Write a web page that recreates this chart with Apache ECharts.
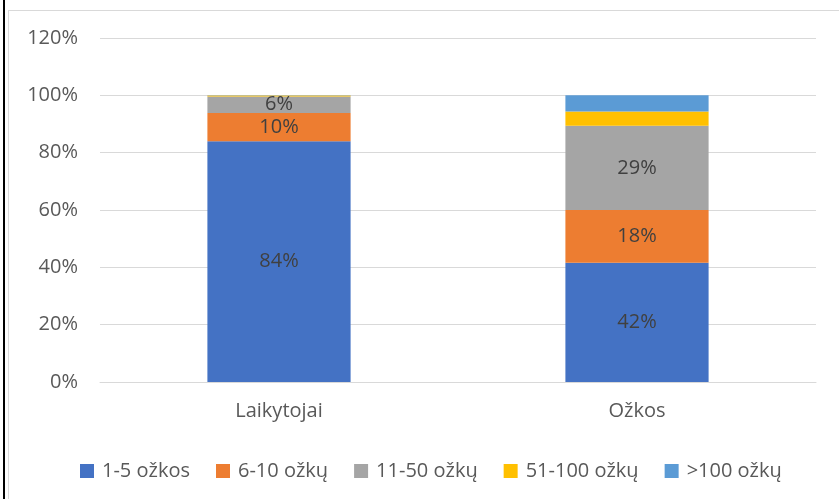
<!DOCTYPE html>
<html>
<head>
<meta charset="utf-8">
<script src="https://cdn.jsdelivr.net/npm/echarts@6/dist/echarts.min.js"></script>
<style>
  html, body { margin: 0; padding: 0; background: #fff; }
  #main { width: 839px; height: 499px; }
</style>
</head>
<body>
<div id="main"></div>
<script>
var categories = ["Laikytojai", "Ožkos"];
var seriesNames = ["1-5 ožkos", "6-10 ožkų", "11-50 ožkų", "51-100 ožkų", ">100 ožkų"];
var s1 = [84.0, 41.6];
var s2 = [9.8, 18.4];
var s3 = [5.8, 29.4];
var s4 = [0.3, 5.0];
var s5 = [0.1, 5.6];
var yTicks = [0, 20, 40, 60, 80, 100, 120];

var colors = ["#4472C4", "#ED7D31", "#A5A5A5", "#FFC000", "#5B9BD5"];
var fontName = "Open Sans";

var chart = echarts.init(document.getElementById("main"));

function makeSeries(idx, data, showLabel) {
    return {
        name: seriesNames[idx],
        type: "bar",
        stack: "total",
        barWidth: "40%",
        data: data,
        itemStyle: { color: colors[idx] },
        label: {
            show: showLabel,
            position: "inside",
            color: "#404040",
            fontFamily: fontName,
            fontSize: 20,
            formatter: function (p) {
                return Math.round(p.value) + "%";
            }
        },
        emphasis: { disabled: true }
    };
}

var option = {
    animation: false,
    color: colors,
    grid: { left: 100, right: 23, top: 38, bottom: 117 },
    xAxis: {
        type: "category",
        data: categories,
        axisTick: { show: false },
        axisLine: { lineStyle: { color: "#D9D9D9", width: 1 } },
        axisLabel: { color: "#595959", fontFamily: fontName, fontSize: 20, margin: 19 }
    },
    yAxis: {
        type: "value",
        min: yTicks[0],
        max: yTicks[yTicks.length - 1],
        interval: 20,
        axisLine: { show: false },
        axisTick: { show: false },
        splitLine: { lineStyle: { color: "#D9D9D9", width: 1 } },
        axisLabel: {
            color: "#595959",
            fontFamily: fontName,
            fontSize: 20,
            margin: 22,
            formatter: function (v) { return v + "%"; }
        }
    },
    legend: {
        data: seriesNames,
        left: 75,
        top: 456,
        icon: "rect",
        itemWidth: 14,
        itemHeight: 14,
        itemGap: 26,
        textStyle: { color: "#595959", fontFamily: fontName, fontSize: 20, padding: [0, 0, 0, 3] }
    },
    graphic: [
        { type: "rect", shape: { x: 3, y: 0, width: 2, height: 499 }, style: { fill: "#000" } },
        { type: "rect", shape: { x: 8, y: 10, width: 831, height: 1 }, style: { fill: "#D9D9D9" } },
        { type: "rect", shape: { x: 8, y: 10, width: 1, height: 489 }, style: { fill: "#D9D9D9" } }
    ],
    series: [
        makeSeries(0, s1, true),
        makeSeries(1, s2, true),
        makeSeries(2, s3, true),
        makeSeries(3, s4, false),
        makeSeries(4, s5, false)
    ]
};
chart.setOption(option);
</script>
</body>
</html>
